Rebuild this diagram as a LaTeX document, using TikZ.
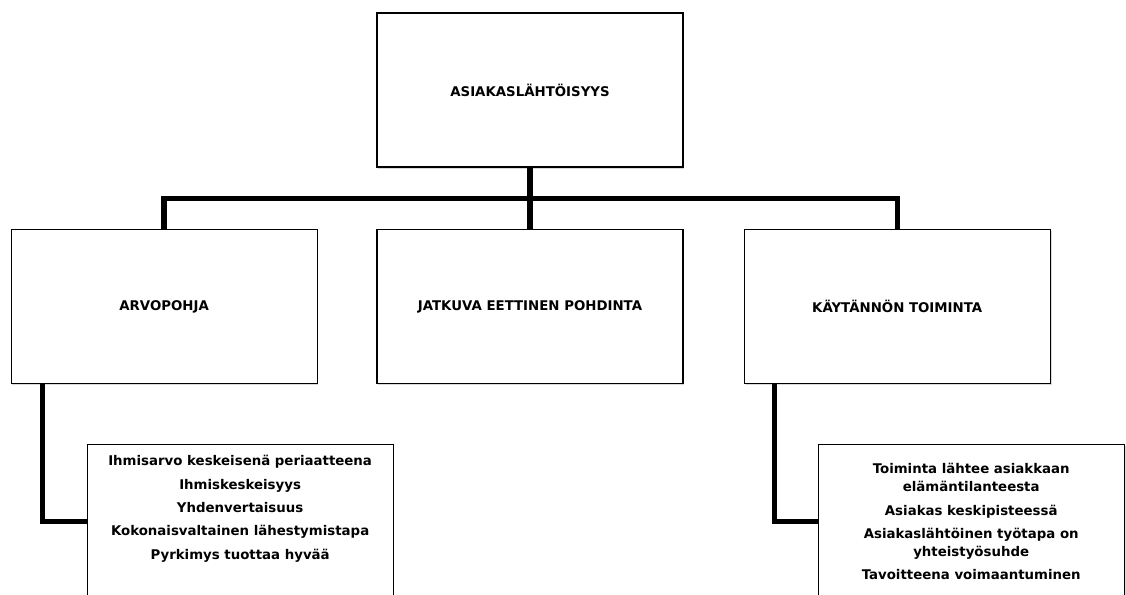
\documentclass[tikz,border=0pt]{standalone}
\usepackage{fontspec}
\setmainfont{DejaVu Sans}
\usepackage{tikz}
\usetikzlibrary{positioning, shadows}

\begin{document}
\begin{tikzpicture}[
        node distance=45pt,
        box/.style={draw, line width=0.9pt, fill=white, minimum width=229.5pt, minimum height=115.5pt,
            align=center, font=\fontsize{10}{13.5}\selectfont\bfseries,
            drop shadow={shadow xshift=1pt, shadow yshift=-1.2pt, opacity=0.3}},
        conn/.style={line width=4pt}
        ]
        \useasboundingbox (0,0) rectangle (844.5pt,-446.25pt);
        \clip (0,0) rectangle (844.5pt,-446.25pt);
        % Nodes
        \node[box] (asiakas) at (397.5pt,-67.5pt) {ASIAKASLÄHTÖISYYS};
        \node[box] (jatkuva) [below=46pt of asiakas] {JATKUVA EETTINEN POHDINTA};
        \node[box] (arvo) [left=44pt of jatkuva] {ARVOPOHJA};
        \node[box] (kaytanto) [right=45pt of jatkuva] {KÄYTÄNNÖN TOIMINTA};
        \node[box] (arvot) [below=45pt of arvo.south west, anchor=north west, xshift=57pt]
            {Ihmisarvo keskeisenä periaatteena\\[4pt] Ihmiskeskeisyys\\[4pt] Yhdenvertaisuus\\[4pt]
             Kokonaisvaltainen lähestymistapa\\[4pt] Pyrkimys tuottaa hyvää\\[4pt] \strut};
        \node[box] (toiminta) [below=45pt of kaytanto.south west, anchor=north west, xshift=55.5pt]
            {Toiminta lähtee asiakkaan\\ elämäntilanteesta\\[4pt] Asiakas keskipisteessä\\[4pt]
             Asiakaslähtöinen työtapa on\\ yhteistyösuhde\\[4pt] Tavoitteena voimaantuminen};
        \coordinate[below=23.25pt of asiakas] (hub);
        \coordinate[right=24pt of arvo.south west] (arvojalka);
        \coordinate[right=23.25pt of kaytanto.south west] (toimjalka);

        % Connectors
        \draw[conn] (asiakas) -- (jatkuva);
        \draw[conn] (arvo.north) |- (hub) -| (kaytanto.north);
        \draw[conn] (arvojalka) |- (arvot.west);
        \draw[conn] (toimjalka) |- (toiminta.west);
    \end{tikzpicture}
\end{document}
